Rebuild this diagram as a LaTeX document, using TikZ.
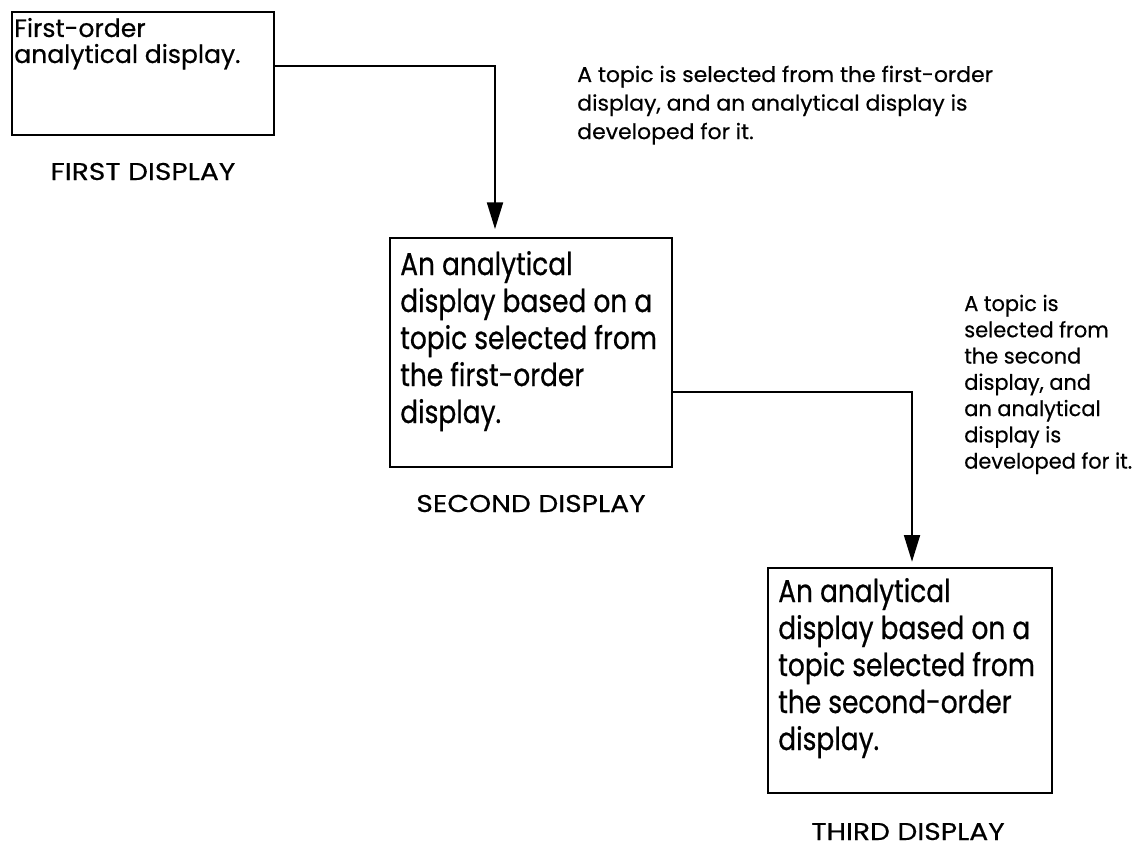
\documentclass[tikz,border=0pt]{standalone}
\usepackage{fontspec}
\setmainfont{Poppins}[FakeStretch=0.84, FakeBold=0.6]
\newfontfamily\capsfont{Poppins}[FakeStretch=1.16, FakeBold=0.5]
\newfontfamily\firstfont{Poppins}[FakeStretch=1.0, FakeBold=0.6]
\newfontfamily\notefont{Poppins}[FakeStretch=1.03, FakeBold=0.5]
\newfontfamily\noteBfont{Poppins}[FakeStretch=0.98, FakeBold=0.5]
\usetikzlibrary{arrows.meta,fit}
\newcommand\txtlines[4]{\parbox[t]{#1}{\raggedright\fontsize{#2}{#3}\selectfont #4}}
\tikzset{
  box/.style={draw, line width=1.4pt, inner sep=0pt},
  txt/.style={inner sep=0pt, anchor=base west},
  lbl/.style={inner sep=0pt, anchor=base, font=\capsfont\fontsize{18.2pt}{20pt}\selectfont},
  conn/.style={line width=1.4pt, -{Triangle[length=20pt,width=12pt]}},
}
\begin{document}
\begin{tikzpicture}[x=0.75pt,y=-0.75pt]
\useasboundingbox (0,0) rectangle (1134,849);
% boxes
\node[box, fit={(12,12)(274,135)}] (b1) {};
\node[box, fit={(390,238)(672,467)}] (b2) {};
\node[box, fit={(768,568)(1052,793)}] (b3) {};
% box texts
\node[txt] (b1t) at (14,37) {\firstfont\txtlines{250pt}{18.8pt}{19.5pt}{First-order\\analytical display.}};
\node[txt] (b2t) at (400,275) {\txtlines{250pt}{23.6pt}{27.75pt}{An analytical\\display based on a\\topic selected from\\the first-order\\display.}};
\node[txt] (b3t) at (778,602) {\txtlines{250pt}{23.6pt}{27.75pt}{An analytical\\display based on a\\topic selected from\\the second-order\\display.}};
% labels
\node[lbl] (l1) at (143,180) {FIRST DISPLAY};
\node[lbl] (l2) at (531,512) {SECOND DISPLAY};
\node[lbl] (l3) at (908,840) {THIRD DISPLAY};
% annotations
\node[txt] (a1) at (577,82) {\notefont\txtlines{400pt}{16pt}{21.4pt}{A topic is selected from the first-order\\display, and an analytical display is\\developed for it.}};
\node[txt] (a2) at (964,311) {\noteBfont\txtlines{200pt}{16pt}{19.7pt}{A topic is\\selected from\\the second\\display, and\\an analytical\\display is\\developed for it.}};
% connectors
\coordinate (c1) at (495,66);
\coordinate (c2) at (912,392);
\draw[conn, shorten >=6pt] (b1.east |- c1) -| (b2.north -| c1);
\draw[conn, shorten >=4pt] (b2.east |- c2) -| (b3.north -| c2);
\end{tikzpicture}
\end{document}
